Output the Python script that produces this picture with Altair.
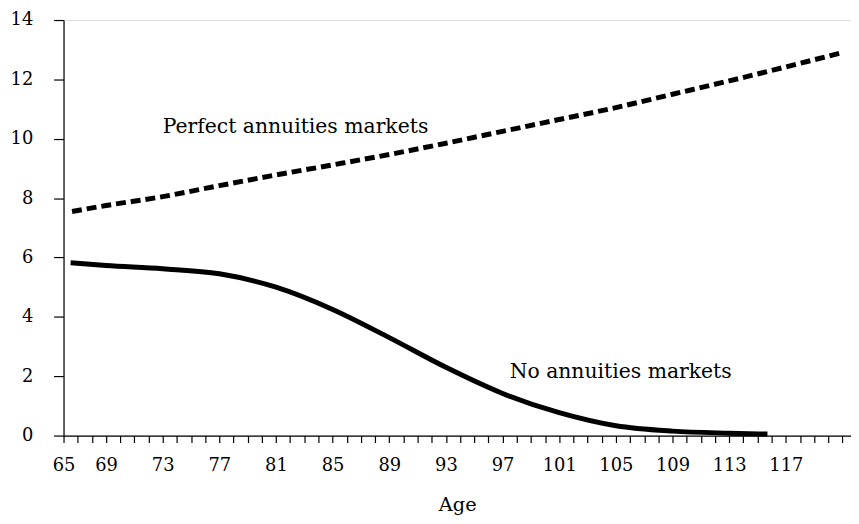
import altair as alt
import pandas as pd

# Perfect annuities markets (dashed)
perfect_age = [66.6, 69, 73, 77, 81, 85, 89, 93, 97, 101, 105, 109, 113, 117, 121.1]
perfect_val = [7.55, 7.75, 8.05, 8.42, 8.78, 9.12, 9.47, 9.85, 10.25, 10.65, 11.05, 11.5, 11.95, 12.42, 12.92]

# No annuities markets (solid)
none_age = [66.5, 69, 73, 77, 81, 85, 89, 93, 97, 101, 105, 109, 113, 115.7]
none_val = [5.82, 5.73, 5.62, 5.45, 5.0, 4.25, 3.3, 2.3, 1.42, 0.77, 0.33, 0.15, 0.08, 0.05]

label_texts = ["Perfect annuities markets", "No annuities markets"]
label_age = [73.0, 97.5]
label_val = [10.38, 2.15]

x_ticks = list(range(66, 122))
y_ticks = [0, 2, 4, 6, 8, 10, 12, 14]

FONT = "DejaVu Serif"

df_p = pd.DataFrame({"age": perfect_age, "value": perfect_val})
df_n = pd.DataFrame({"age": none_age, "value": none_val})
df_t = pd.DataFrame({"text": label_texts, "age": label_age, "value": label_val})

x_scale = alt.Scale(domain=[66, 121.6], nice=False, zero=False)
y_scale = alt.Scale(domain=[0, 14], nice=False)

x_axis = alt.Axis(
    title="Age", values=x_ticks, tickCount=100, format="d", tickSize=7, tickColor="black",
    domainColor="black", tickWidth=1.2, domainWidth=1.2,
    labelExpr="datum.value == 66 ? '65' : ((datum.value >= 69 && datum.value <= 117 && (datum.value - 69) % 4 == 0) ? datum.label : '')",
    labelFont=FONT, labelFontSize=18, labelColor="black", labelPadding=14,
    labelOverlap=False, labelFlush=False,
    titleFont=FONT, titleFontSize=19.5, titleFontWeight="normal", titleColor="black",
    titlePadding=22, grid=False,
)
y_axis = alt.Axis(
    title=None, values=y_ticks, tickSize=10, tickColor="black", domainColor="black",
    tickWidth=1.2, domainWidth=1.2,
    labelFont=FONT, labelFontSize=18, labelColor="black", labelPadding=21,
    grid=False,
)

perfect = alt.Chart(df_p).mark_line(
    color="black", strokeWidth=5, strokeDash=[10, 5], interpolate="monotone", strokeCap="butt"
).encode(
    x=alt.X("age:Q", scale=x_scale, axis=x_axis),
    y=alt.Y("value:Q", scale=y_scale, axis=y_axis),
)

none = alt.Chart(df_n).mark_line(
    color="black", strokeWidth=5, interpolate="monotone", strokeCap="butt"
).encode(
    x=alt.X("age:Q", scale=x_scale, axis=x_axis),
    y=alt.Y("value:Q", scale=y_scale, axis=y_axis),
)

labels = alt.Chart(df_t).mark_text(
    font=FONT, fontSize=20.5, color="black", align="left", baseline="middle"
).encode(
    x=alt.X("age:Q", scale=x_scale, axis=x_axis),
    y=alt.Y("value:Q", scale=y_scale, axis=y_axis),
    text="text:N",
)

chart = alt.layer(perfect, none, labels).properties(
    width=794, height=419,
    autosize=alt.AutoSizeParams(type="none"),
    padding={"left": 56, "top": 10, "right": 0, "bottom": 84},
).configure_view(stroke=None).configure(background="white")

chart.save("out.html", embed_options={"renderer": "svg", "actions": False})
